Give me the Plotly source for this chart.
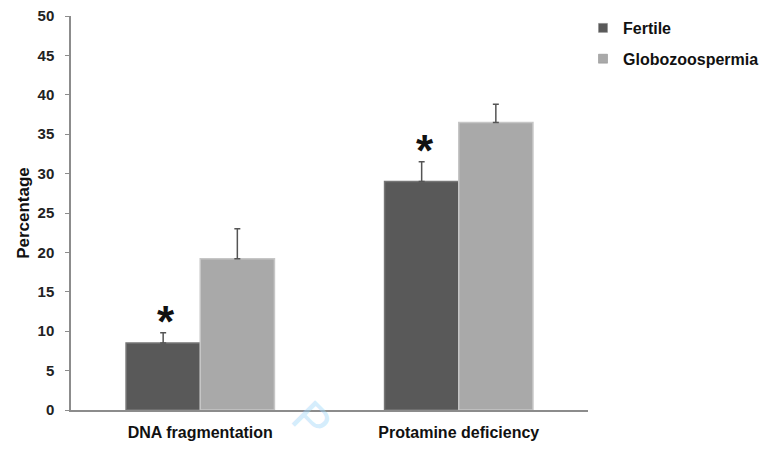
import plotly.graph_objects as go

categories = ["DNA fragmentation", "Protamine deficiency"]
fertile = [8.5, 29.0]
fertile_err = [1.3, 2.5]
globo = [19.2, 36.5]
globo_err = [3.8, 2.3]
y_ticks = [0, 5, 10, 15, 20, 25, 30, 35, 40, 45, 50]

font_family = "Liberation Sans, Arial, sans-serif"
fertile_color = "#595959"
globo_color = "#a9a9a9"

fig = go.Figure()
fig.add_trace(go.Bar(
    name="Fertile", x=categories, y=fertile, showlegend=False,
    marker=dict(color=fertile_color, line=dict(color="#767676", width=1.5)),
    error_y=dict(type="data", array=fertile_err, symmetric=False, arrayminus=[0, 0],
                 color="#555555", thickness=1.5, width=3),
))
fig.add_trace(go.Bar(
    name="Globozoospermia", x=categories, y=globo, showlegend=False,
    marker=dict(color=globo_color, line=dict(color="#c6c6c6", width=1.5)),
    error_y=dict(type="data", array=globo_err, symmetric=False, arrayminus=[0, 0],
                 color="#555555", thickness=1.5, width=3),
))

# legend entries with small square keys
for name, color, grp in [("Fertile", fertile_color, "f"), ("Globozoospermia", globo_color, "g")]:
    fig.add_trace(go.Scatter(
        x=[None], y=[None], mode="markers", name=name, legendgroup=grp,
        marker=dict(symbol="square", size=9, color=color, line=dict(color="#888888", width=0.5)),
    ))

# significance markers above the Fertile bars
for i, cat in enumerate(categories):
    fig.add_annotation(
        x=cat, y=fertile[i] + fertile_err[i], xshift=-34, yshift=-15,
        text="*", showarrow=False,
        font=dict(family=font_family, size=44, color="#111111", weight="bold"),
        yanchor="bottom",
    )

# faint watermark
fig.add_annotation(
    xref="paper", yref="paper", x=(312 - 71) / 517, y=-(420 - 410) / 394,
    xanchor="center", yanchor="middle",
    text="P", showarrow=False,
    font=dict(family=font_family, size=48, color="rgba(160,215,250,0.45)"),
    textangle=45,
)

fig.update_layout(
    width=782, height=455,
    margin=dict(l=71, r=194, t=16, b=45, autoexpand=False),
    paper_bgcolor="white", plot_bgcolor="white",
    barmode="group", bargap=0.426, bargroupgap=0,
    font=dict(family=font_family, color="#222222"),
    legend=dict(
        x=(583 - 71) / 517, y=1.0 + 5 / 394, xanchor="left", yanchor="top",
        font=dict(family=font_family, size=16, color="#111111", weight="bold"),
        itemwidth=30, tracegroupgap=7, bgcolor="rgba(0,0,0,0)",
    ),
    showlegend=True,
)
fig.update_xaxes(
    showline=True, linecolor="#8c8c8c", linewidth=1.5,
    ticks="", showgrid=False, ticklabelstandoff=7,
    tickfont=dict(family=font_family, size=16, color="#111111", weight="bold"),
)
fig.update_yaxes(
    range=[0, 50], tickvals=y_ticks,
    showline=True, linecolor="#8c8c8c", linewidth=1.5,
    ticks="outside", ticklen=4, tickcolor="#8c8c8c", ticklabelstandoff=8,
    showgrid=False, zeroline=False,
    tickfont=dict(family=font_family, size=15, color="#222222", weight="bold"),
    title=dict(text="Percentage", font=dict(family=font_family, size=17, color="#111111", weight="bold"), standoff=4),
)

fig.write_html("out.html")
